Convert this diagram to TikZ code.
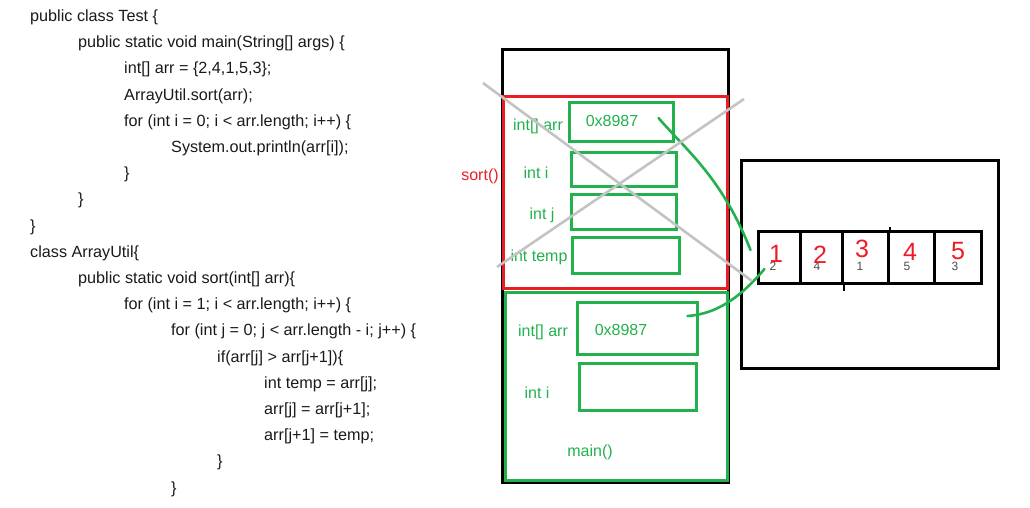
\documentclass[tikz,border=0pt]{standalone}
\usepackage{fontspec}
\setmainfont{Liberation Sans}
\usetikzlibrary{calc}
\definecolor{gr}{HTML}{22B14C}
\definecolor{rd}{HTML}{ED1C24}
\definecolor{gy}{HTML}{C3C3C3}
\definecolor{codec}{HTML}{1A1A1A}
\begin{document}
\begin{tikzpicture}[x=1pt,y=-1pt,
  code/.style={anchor=base west,inner sep=0pt,text=codec,font=\fontsize{16.2}{16.2}\selectfont},
  lbl/.style={inner sep=0pt,text=gr,font=\fontsize{16}{16}\selectfont},
  frame/.style={draw,line width=3pt,inner sep=0pt},
  gbox/.style={draw=gr,line width=3pt,inner sep=0pt},
  cell/.style={draw=black,line width=3pt,inner sep=0pt,minimum height=52pt},
  small/.style={inner sep=0pt,text=gray!60!black,font=\fontsize{12}{12}\selectfont},
  hand/.style={inner sep=0pt,text=rd,font=\fontsize{25}{25}\selectfont},
  link/.style={draw=gr,line width=2.6pt,line cap=round},
  cross/.style={draw=gy,line width=2.6pt}]
\useasboundingbox (0,0) rectangle (1030,507);
% ---- code ----
\node[code] (c0)  at (30,21.5)  {public class Test \{};
\node[code] (c1)  at (78,47.7)  {public static void main(String[] args) \{};
\node[code] (c2)  at (124,73.9) {int[] arr = \{2,4,1,5,3\};};
\node[code] (c3)  at (124,100.1){ArrayUtil.sort(arr);};
\node[code] (c4)  at (124,126.3){for (int i = 0; i < arr.length; i++) \{};
\node[code] (c5)  at (171,152.5){System.out.println(arr[i]);};
\node[code] (c6)  at (124,178.7){\}};
\node[code] (c7)  at (78,204.9) {\}};
\node[code] (c8)  at (30,231.1) {\}};
\node[code] (c9)  at (30,257.3) {class ArrayUtil\{};
\node[code] (c10) at (78,283.5) {public static void sort(int[] arr)\{};
\node[code] (c11) at (124,309.7){for (int i = 1; i < arr.length; i++) \{};
\node[code] (c12) at (171,335.9){for (int j = 0; j < arr.length - i; j++) \{};
\node[code] (c13) at (217,362.1){if(arr[j] > arr[j+1])\{};
\node[code] (c14) at (264,388.3){int temp = arr[j];};
\node[code] (c15) at (264,414.5){arr[j] = arr[j+1];};
\node[code] (c16) at (264,440.7){arr[j+1] = temp;};
\node[code] (c17) at (217,466.9){\}};
\node[code] (c18) at (171,493.1){\}};
% ---- stack ----
\node[frame,draw=black,minimum width=226pt,minimum height=433pt] (stack) at (615,265.5) {};
\node[frame,draw=rd,minimum width=224pt,minimum height=192pt] (sortf) at (615,192) {};
\node[frame,draw=gr,minimum width=222pt,minimum height=188pt] (mainf) at (616,386) {};
\node[gbox,minimum width=104pt,minimum height=39pt] (sarr) at (621,121.5) {};
\node[gbox,minimum width=105pt,minimum height=34pt] (si) at (623.5,169) {};
\node[gbox,minimum width=105pt,minimum height=35pt] (sj) at (623.5,211.5) {};
\node[gbox,minimum width=107pt,minimum height=36pt] (stemp) at (625.5,255) {};
\node[gbox,minimum width=120pt,minimum height=52pt] (marr) at (637,328) {};
\node[gbox,minimum width=117pt,minimum height=47pt] (mi) at (637.5,386.5) {};
\node[lbl] (lsarr) at (538,126) {int[] arr};
\node[lbl] (lsi) at (536,173) {int i};
\node[lbl] (lsj) at (542,215) {int j};
\node[lbl] (lstemp) at (539,257) {int temp};
\node[lbl] (vsarr) at (612,121) {0x8987};
\node[lbl,text=rd] (lsort) at (480,176) {sort()};
\node[lbl] (lmarr) at (543,332) {int[] arr};
\node[lbl] (vmarr) at (621,330) {0x8987};
\node[lbl] (lmi) at (537,393) {int i};
\node[lbl] (lmain) at (590,452) {main()};
% ---- heap ----
\node[frame,draw=black,minimum width=257pt,minimum height=208pt] (heap) at (869.5,264) {};
\node[cell,minimum width=42pt] (a1) at (779,257) {};
\node[cell,minimum width=42pt] (a2) at (821,257) {};
\node[cell,minimum width=46pt] (a3) at (865,257) {};
\node[cell,minimum width=46pt] (a4) at (911,257) {};
\node[cell,minimum width=47pt] (a5) at (957.5,257) {};
\draw[line width=2pt] (a2.south east) -- ++(0,6);
\draw[line width=2pt] (a3.north east) -- ++(0,-3);
\node[small] (n1) at (773,266) {2};
\node[small] (n2) at (817,266) {4};
\node[small] (n3) at (860,266) {1};
\node[small] (n4) at (907,266) {5};
\node[small] (n5) at (955,266) {3};
\node[hand] (h1) at (776,254) {1};
\node[hand] (h2) at (820,255) {2};
\node[hand] (h3) at (862,249) {3};
\node[hand] (h4) at (910,252) {4};
\node[hand] (h5) at (958,251) {5};
% ---- references ----
\coordinate (sa) at ($(sarr.east)+(-16,-3.5)$);
\coordinate (ea) at ($(a1.west)+(-6,-7)$);
\coordinate (sb) at ($(marr.east)+(-11,-12)$);
\coordinate (eb) at ($(a1.west)+(8,12)$);
\draw[link] (sa) .. controls (688,152) and (722,178) .. (ea);
\draw[link] (sb) .. controls (715,314) and (738,300) .. (eb);
% ---- cross-out ----
\coordinate (x1) at (483,83);
\coordinate (x2) at (752,281);
\coordinate (x3) at (497,267);
\coordinate (x4) at (744,99);
\draw[cross] (x1) -- (x2);
\draw[cross] (x3) -- (x4);
\end{tikzpicture}
\end{document}
